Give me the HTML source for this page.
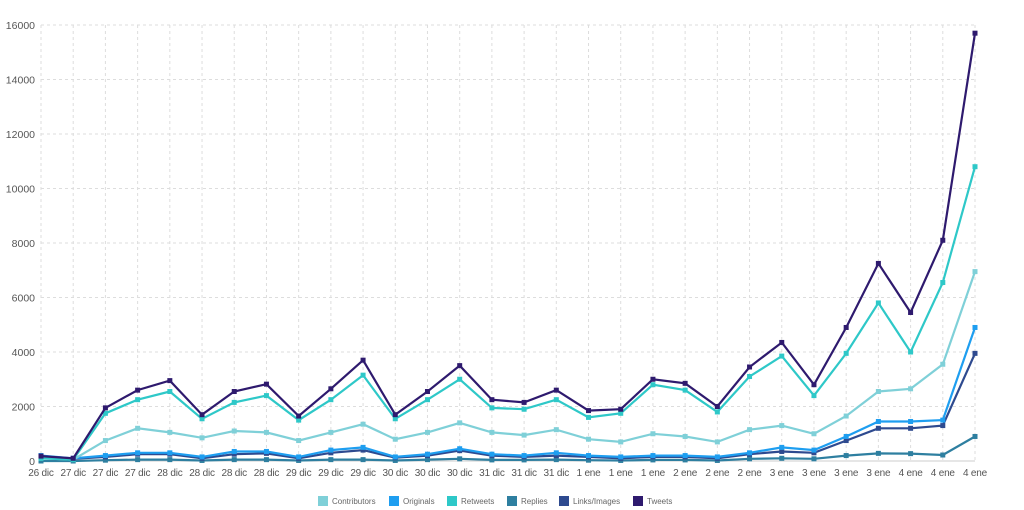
<!DOCTYPE html>
<html><head><meta charset="utf-8">
<style>
body{margin:0;background:#fff;width:1024px;height:510px;overflow:hidden}
svg{display:block;font-family:"Liberation Sans",sans-serif}
</style></head>
<body>
<svg id="c" width="1024" height="510" xmlns="http://www.w3.org/2000/svg"></svg>
<script>
const svg=document.getElementById('c');
const X0=41,DX=(975-41)/29,Y0=461,K=436/16000;
const labels=["26 dic","27 dic","27 dic","27 dic","28 dic","28 dic","28 dic","28 dic","29 dic","29 dic","29 dic","30 dic","30 dic","30 dic","31 dic","31 dic","31 dic","1 ene","1 ene","1 ene","2 ene","2 ene","2 ene","3 ene","3 ene","3 ene","3 ene","4 ene","4 ene","4 ene"];
const S=[
["Replies","#2e7fa0",[0,0,30,50,50,20,50,50,20,50,50,20,50,80,40,40,50,30,20,40,40,20,80,100,80,200,280,270,220,900]],
["Links/Images","#2e4a8f",[150,80,150,250,250,100,250,280,100,300,400,120,200,380,200,150,200,150,100,150,150,100,250,350,300,750,1200,1200,1300,3950]],
["Originals","#1e9ef0",[200,100,200,300,300,150,350,350,150,400,500,150,250,450,250,200,300,200,150,200,200,150,300,500,400,900,1450,1450,1500,4900]],
["Contributors","#7fd0d8",[100,50,750,1200,1050,850,1100,1050,750,1050,1350,800,1050,1400,1050,950,1150,800,700,1000,900,700,1150,1300,1000,1650,2550,2650,3550,6950]],
["Retweets","#2ec8c8",[100,50,1750,2250,2550,1550,2150,2400,1500,2250,3150,1550,2250,3000,1950,1900,2250,1600,1750,2800,2600,1800,3100,3850,2400,3950,5800,4000,6550,10800]],
["Tweets","#2e1a6e",[180,100,1950,2600,2950,1700,2550,2820,1650,2650,3700,1700,2550,3500,2250,2150,2600,1850,1900,3000,2850,2000,3450,4350,2800,4900,7250,5450,8100,15700]]
];
let h='';
for(let v=0;v<=16000;v+=2000){const y=Y0-v*K;
 if(v>0)h+=`<line x1="${X0}" x2="${X0+DX*29}" y1="${y}" y2="${y}" stroke="#ddd" stroke-dasharray="3,3"/>`;
 h+=`<text x="35" y="${y+4}" text-anchor="end" font-size="10.5" fill="#555">${v}</text>`;}
labels.forEach((l,i)=>{const x=X0+DX*i;
 h+=`<line x1="${x}" x2="${x}" y1="${Y0-16000*K}" y2="${Y0}" stroke="#ddd" stroke-dasharray="3,3"/>`;
 h+=`<text x="${x}" y="476" text-anchor="middle" font-size="10" letter-spacing="-0.2" fill="#555">${l}</text>`;});
h+=`<line x1="${X0}" x2="${X0+DX*29}" y1="${Y0}" y2="${Y0}" stroke="#ccc"/>`;
S.forEach(([n,c,d])=>{
 const pts=d.map((v,i)=>`${(X0+DX*i).toFixed(1)},${(Y0-v*K).toFixed(1)}`).join(' ');
 h+=`<polyline points="${pts}" fill="none" stroke="${c}" stroke-width="2.2"/>`;
 d.forEach((v,i)=>{h+=`<rect x="${X0+DX*i-2.5}" y="${Y0-v*K-2.5}" width="5" height="5" fill="${c}"/>`});
});
const leg=[["Contributors","#7fd0d8",318],["Originals","#1e9ef0",389],["Retweets","#2ec8c8",447],["Replies","#2e7fa0",507],["Links/Images","#2e4a8f",559],["Tweets","#2e1a6e",633]];
leg.forEach(([n,c,x])=>{h+=`<rect x="${x}" y="496" width="10" height="10" fill="${c}"/><text x="${x+14}" y="504" font-size="8" fill="#666">${n}</text>`});
svg.innerHTML=h;
</script>
</body></html>
